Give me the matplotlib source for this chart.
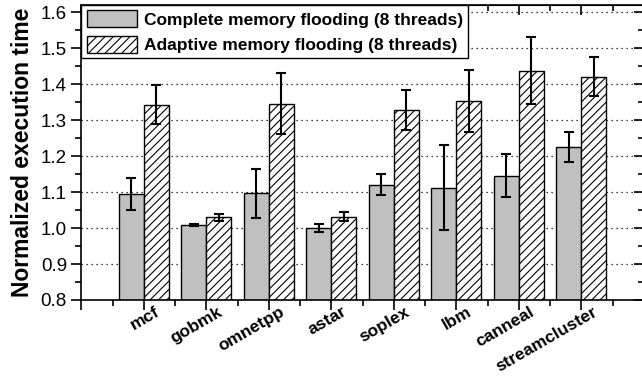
import numpy as np
from matplotlib import pyplot as plt
from matplotlib.ticker import MultipleLocator
from matplotlib.transforms import ScaledTranslation

plt.rcParams['font.family'] = ['Liberation Sans', 'DejaVu Sans']
plt.rcParams['hatch.linewidth'] = 0.8

benchmarks = ['mcf', 'gobmk', 'omnetpp', 'astar', 'soplex', 'lbm', 'canneal', 'streamcluster']

# полное затопление памяти
complete_vals = [1.095, 1.008, 1.097, 1.000, 1.121, 1.112, 1.146, 1.226]
complete_err = [0.045, 0.003, 0.068, 0.010, 0.030, 0.118, 0.061, 0.042]

# адаптивное затопление памяти
adaptive_vals = [1.343, 1.030, 1.346, 1.032, 1.328, 1.353, 1.437, 1.421]
adaptive_err = [0.054, 0.010, 0.085, 0.012, 0.055, 0.087, 0.093, 0.055]

label_complete = 'Complete memory flooding (8 threads)'
label_adaptive = 'Adaptive memory flooding (8 threads)'

x = np.arange(1, len(benchmarks) + 1)
w = 0.4

fig = plt.figure(figsize=(6.42, 3.83), dpi=100)
ax = fig.add_axes([81.5 / 642, 83 / 383, (644 - 81.5) / 642, 295 / 383])

err_kw = dict(ecolor='black', elinewidth=1.5, capsize=3.5, capthick=1.5)
ax.bar(x - w / 2, complete_vals, w, yerr=complete_err, color='#c0c0c0',
       edgecolor='black', linewidth=1.0, label=label_complete, error_kw=err_kw, zorder=2)
ax.bar(x + w / 2, adaptive_vals, w, yerr=adaptive_err, color='white', hatch='////',
       edgecolor='black', linewidth=1.0, label=label_adaptive, error_kw=err_kw, zorder=2)

ax.set_xlim(0, 9)
ax.set_ylim(0.8, 1.62)
ax.yaxis.set_major_locator(MultipleLocator(0.1))
ax.yaxis.set_minor_locator(MultipleLocator(0.05))
ax.set_yticklabels([f'{v:.1f}' for v in ax.get_yticks()])

ax.set_xticks(np.arange(0, 10))
ax.set_xticklabels([])
ax.xaxis.set_minor_locator(MultipleLocator(0.5))

# подписи категорий: сдвинуты вправо от засечки, как в оригинале
lab_tr = ax.get_xaxis_transform() + ScaledTranslation(7.5 / 72, -3 / 72, fig.dpi_scale_trans)
for xi, name in zip(x, benchmarks):
    ax.text(xi, 0, name, transform=lab_tr, rotation=30, ha='right', va='top',
            rotation_mode='anchor', fontweight='bold', fontsize=12.5)

ax.tick_params(axis='both', which='major', direction='out', length=7, width=1.2)
ax.tick_params(axis='both', which='minor', direction='out', length=4, width=1.2)
ax.tick_params(axis='y', labelsize=13.5)

# засечки сверху и справа внутрь
top = ax.secondary_xaxis('top')
top.set_xticks(np.arange(0, 10))
top.xaxis.set_minor_locator(MultipleLocator(0.5))
top.tick_params(which='both', direction='in', labeltop=False, width=1.2)
top.tick_params(which='major', length=7)
top.tick_params(which='minor', length=4)
right = ax.secondary_yaxis('right')
right.yaxis.set_major_locator(MultipleLocator(0.1))
right.yaxis.set_minor_locator(MultipleLocator(0.05))
right.tick_params(which='both', direction='in', labelright=False, width=1.2)
right.tick_params(which='major', length=7)
right.tick_params(which='minor', length=4)

for s in ax.spines.values():
    s.set_linewidth(1.2)

ax.yaxis.grid(True, linestyle=(0, (1, 3)), color='black', linewidth=0.9)
ax.set_axisbelow(True)

ax.set_ylabel('Normalized execution time', fontsize=16.5, fontweight='bold', labelpad=5)

leg = ax.legend(loc='upper left', borderaxespad=0, fancybox=False, edgecolor='black',
                framealpha=1, prop={'weight': 'bold', 'size': 12.5},
                handlelength=2.9, handleheight=1.15, borderpad=0.3, labelspacing=0.45,
                handletextpad=0.4)
leg.get_frame().set_linewidth(1.0)

plt.savefig('out.png', dpi=100)
